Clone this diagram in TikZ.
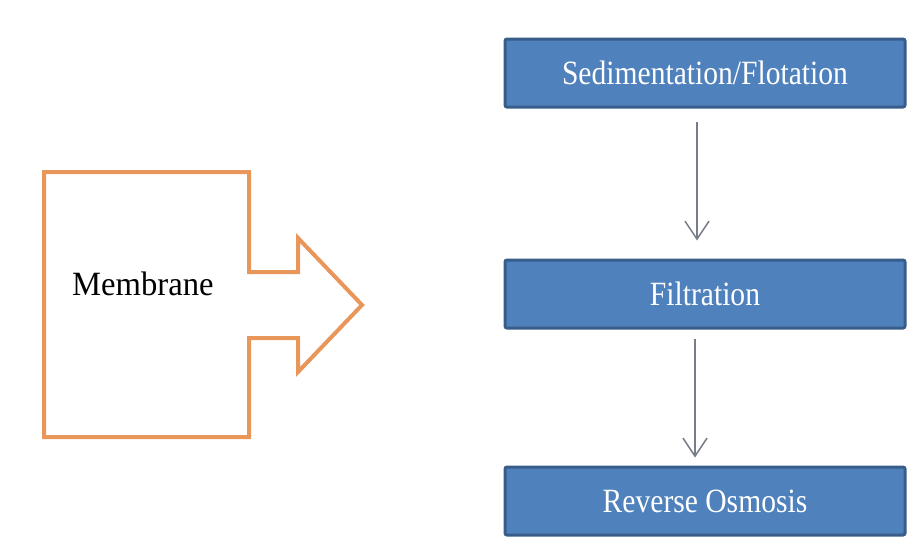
\documentclass[tikz,border=0pt]{standalone}
\usepackage{fontspec}
\setmainfont{Liberation Serif}
\newfontfamily\boxfont[FakeStretch=0.87]{Liberation Serif}
\newfontfamily\labelfont[FakeStretch=0.96]{Liberation Serif}
\usepackage{xcolor}
\usepackage{tikz}
\usetikzlibrary{arrows.meta,positioning}
\definecolor{stepblue}{RGB}{79,129,189}
\definecolor{stepborder}{RGB}{56,93,138}
\definecolor{calloutorange}{RGB}{232,150,90}
\definecolor{flowgray}{RGB}{118,124,136}
\tikzset{
  stagebox/.style={draw=stepborder, fill=stepblue, line width=3pt, rounded corners=2pt,
    minimum width=400pt, minimum height=68pt, align=center, text=white,
    font=\boxfont\fontsize{34}{40}\selectfont},
  flow/.style={-{Straight Barb[length=18pt, width=24pt]}, draw=flowgray, line width=1.5pt},
  callout/.style={draw=calloutorange, line width=4pt, line join=miter}
}

\begin{document}
\begin{tikzpicture}[x=1pt, y=-1pt]
\useasboundingbox (0,0) rectangle (914,542);

% membrane callout arrow
\draw[callout] (44,172) -- (249,172) -- (249,272) -- (298,272) -- (298,238)
  -- (362,305) -- (298,372) -- (298,338) -- (249,338) -- (249,437)
  -- (44,437) -- cycle;
\node[anchor=base west, inner sep=0pt, font=\labelfont\fontsize{34}{40}\selectfont]
  (membrane) at (72,295) {Membrane};

% treatment stages
\node[stagebox] (sed) at (705,73) {Sedimentation/Flotation};
\node[stagebox, below=150pt of sed] (filt) {Filtration};
\node[stagebox, below=136pt of filt] (ro) {Reverse Osmosis};

\draw[flow, shorten <=13pt, shorten >=18pt]
  ([xshift=-8pt]sed.south) -- ([xshift=-8pt]filt.north);
\draw[flow, shorten <=9pt, shorten >=8pt]
  ([xshift=-10pt]filt.south) -- ([xshift=-10pt]ro.north);
\end{tikzpicture}
\end{document}
